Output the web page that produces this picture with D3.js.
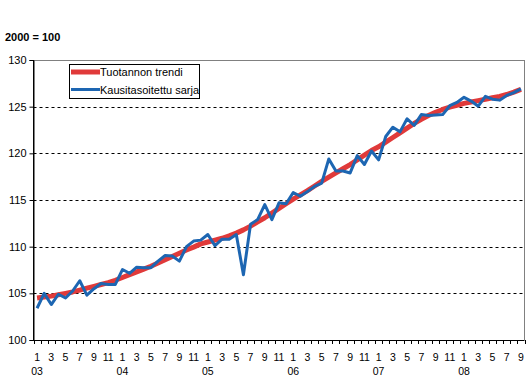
<!DOCTYPE html>
<html><head><meta charset="utf-8">
<script src="https://cdn.jsdelivr.net/npm/d3@7"></script>
<style>body{margin:0;background:#fff}svg{display:block;font-family:"Liberation Sans",Arial,sans-serif}</style>
</head><body><svg id="c" width="530" height="384"></svg>
<script>
const years = ["03","04","05","06","07","08"];
const months = [];
years.forEach(y => { for (let m = 1; m <= 12; m++) { if (y === "08" && m > 9) break; months.push({y, m}); } });
const trend = [
 104.5,104.6,104.7,104.85,105.0,105.15,105.35,105.55,105.75,105.95,106.15,106.4,
 106.7,107.0,107.3,107.6,107.9,108.25,108.6,108.95,109.3,109.65,109.95,110.3,
 110.5,110.7,110.9,111.15,111.45,111.8,112.2,112.65,113.1,113.6,114.1,114.6,
 115.1,115.55,116.0,116.5,117.0,117.45,117.9,118.35,118.8,119.3,119.8,120.3,
 120.7,121.2,121.7,122.2,122.7,123.2,123.65,124.05,124.4,124.7,124.95,125.15,
 125.35,125.5,125.65,125.8,125.95,126.1,126.3,126.55,126.85];
const seasonal = [
 103.4,105.0,103.8,104.9,104.5,105.25,106.35,104.8,105.5,106.05,105.95,105.95,
 107.55,107.15,107.8,107.75,107.75,108.45,109.05,109.0,108.45,110.0,110.6,110.7,
 111.3,110.1,110.8,110.8,111.3,107.0,112.4,112.9,114.5,112.9,114.7,114.6,
 115.8,115.4,115.9,116.45,116.8,119.4,118.1,118.1,117.9,119.75,118.8,120.25,
 119.3,121.8,122.8,122.3,123.7,123.0,124.15,124.05,124.1,124.15,125.1,125.45,
 126.0,125.6,125.05,126.1,125.8,125.7,126.2,126.5,126.9];
const yTicks = [100,105,110,115,120,125,130];
const seriesNames = ["Tuotannon trendi","Kausitasoitettu sarja"];
const colors = ["#e03a3a","#1d66b2"];

const svg = d3.select("#c");
const L = 33.5, R = 524.5, T = 60, B = 340;
const x = d3.scaleBand().domain(d3.range(months.length)).range([L, R]).paddingInner(0).paddingOuter(0);
const y = d3.scaleLinear().domain([100,130]).range([B, T]);
const cx = i => x(i) + x.bandwidth()/2;

// gridlines
svg.append("g").selectAll("line").data(yTicks.filter(v => v > 100 && v < 130)).join("line")
  .attr("x1", L).attr("x2", R).attr("y1", d => Math.round(y(d))+0.5).attr("y2", d => Math.round(y(d))+0.5)
  .attr("stroke", "#000").attr("stroke-width", 1).attr("stroke-dasharray", "3,3");
// top & right border
svg.append("line").attr("x1", L).attr("x2", R).attr("y1", T+0.5).attr("y2", T+0.5).attr("stroke", "#808080");
svg.append("line").attr("x1", R).attr("x2", R).attr("y1", T).attr("y2", B).attr("stroke", "#808080");

// y axis
const yAxis = d3.axisLeft(y).tickValues(yTicks).tickSize(4).tickPadding(3).tickFormat(d3.format("d"));
const ga = svg.append("g").attr("transform", `translate(${L},0)`).call(yAxis);
ga.select(".domain").attr("stroke", "#000");
ga.selectAll("text").attr("font-size", 11).attr("fill", "#000").attr("font-family", "Liberation Sans, Arial");

// x axis ticks at band boundaries
const bounds = d3.range(months.length + 1).map(i => L + i * x.bandwidth());
svg.append("g").selectAll("line").data(bounds).join("line")
  .attr("x1", d => Math.round(d)+0.5).attr("x2", d => Math.round(d)+0.5).attr("y1", B).attr("y2", B + 4)
  .attr("stroke", "#000");
svg.append("line").attr("x1", L).attr("x2", R).attr("y1", B+0.5).attr("y2", B+0.5).attr("stroke", "#000");
svg.append("line").attr("x1", L).attr("x2", L).attr("y1", T).attr("y2", B).attr("stroke", "#000");

svg.append("g").selectAll("text").data(months.map((d,i)=>({...d,i})).filter(d => d.m % 2 === 1)).join("text")
  .attr("x", d => cx(d.i)).attr("y", 361).attr("text-anchor", "middle")
  .attr("font-size", 10.5).text(d => d.m);
svg.append("g").selectAll("text").data(months.map((d,i)=>({...d,i})).filter(d => d.m === 1)).join("text")
  .attr("x", d => cx(d.i)).attr("y", 375).attr("text-anchor", "middle")
  .attr("font-size", 10.5).text(d => d.y);

// lines
const line = d3.line().x((d,i) => cx(i)).y(d => y(d));
svg.append("path").datum(trend).attr("d", line).attr("fill", "none")
  .attr("stroke", colors[0]).attr("stroke-width", 5).attr("stroke-linejoin", "round");
svg.append("path").datum(seasonal).attr("d", line).attr("fill", "none")
  .attr("stroke", colors[1]).attr("stroke-width", 3).attr("stroke-linejoin", "round");

// legend
const lg = svg.append("g");
lg.append("rect").attr("x", 69.5).attr("y", 64.5).attr("width", 130).attr("height", 34)
  .attr("fill", "#fff").attr("stroke", "#000").attr("stroke-width", 1);
seriesNames.forEach((n, i) => {
  const yy = 72 + i * 17.5;
  lg.append("line").attr("x1", 71).attr("x2", 100).attr("y1", yy).attr("y2", yy)
    .attr("stroke", colors[i]).attr("stroke-width", i === 0 ? 5 : 3);
  lg.append("text").attr("x", 100).attr("y", yy + 4).attr("font-size", 11).text(n);
});

svg.append("text").attr("x", 5).attr("y", 41).attr("font-size", 11).attr("font-weight", "bold").text("2000 = 100");
</script></body></html>
